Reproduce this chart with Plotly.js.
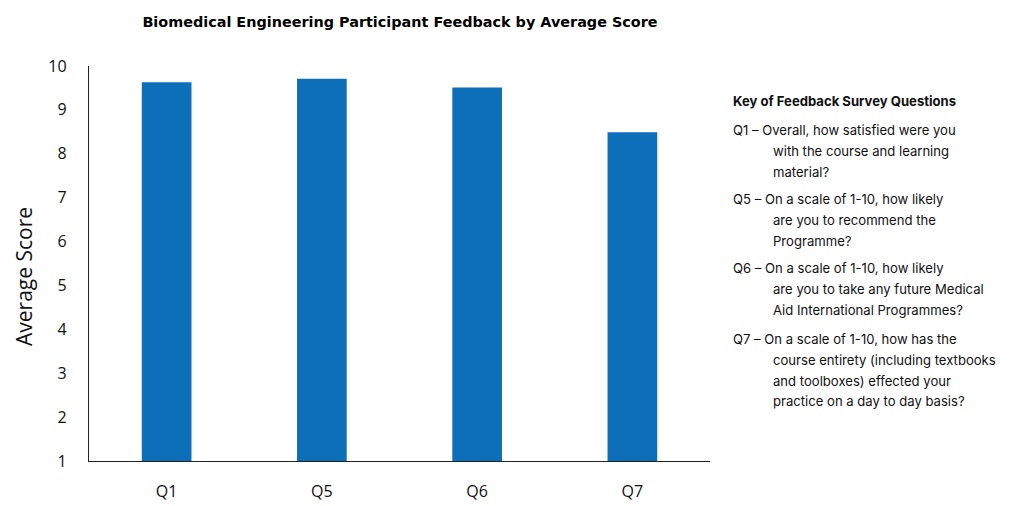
<!DOCTYPE html>
<html>
<head>
<meta charset="utf-8">
<script src="https://cdn.plot.ly/plotly-3.0.1.min.js"></script>
<style>html,body{margin:0;padding:0;background:#fff;}#chart{width:1024px;height:506px;}</style>
</head>
<body>
<div id="chart"></div>
<script>
const categories = ["Q1", "Q5", "Q6", "Q7"];
const averageScores = [9.63, 9.71, 9.51, 8.49];
const yTicks = [1, 2, 3, 4, 5, 6, 7, 8, 9, 10];
const chartTitle = "Biomedical Engineering Participant Feedback by Average Score";
const yTitle = "Average Score";
const keyHeading = "Key of Feedback Survey Questions";
const keyItems = [
  ["Q1 – Overall, how satisfied were you", "with the course and learning", "material?"],
  ["Q5 – On a scale of 1-10, how likely", "are you to recommend the", "Programme?"],
  ["Q6 – On a scale of 1-10, how likely", "are you to take any future Medical", "Aid International Programmes?"],
  ["Q7 – On a scale of 1-10, how has the", "course entirety (including textbooks", "and toolboxes) effected your", "practice on a day to day basis?"]
];

const L = 89, R = 710, T = 66, B = 461;
const px = x => (x - L) / (R - L);
const py = y => (B - y) / (B - T);

const keyFont = {family: "Inter, 'Open Sans', sans-serif", size: 13.1, color: "#111"};
const annotations = [];
annotations.push({text: yTitle, xref: "paper", yref: "paper", x: px(24), y: py(277), textangle: -90,
  showarrow: false, xanchor: "center", yanchor: "middle",
  font: {family: "'Open Sans', 'Liberation Sans', sans-serif", size: 21, color: "#111"}});
annotations.push({text: "<b>" + keyHeading + "</b>", xref: "paper", yref: "paper", x: px(731), y: py(101),
  showarrow: false, xanchor: "left", yanchor: "middle", font: keyFont});
const groupStarts = [130, 199, 268, 339];
const lineGap = 20.8;
keyItems.forEach((lines, g) => {
  lines.forEach((ln, i) => {
    annotations.push({text: ln, xref: "paper", yref: "paper",
      x: px(i === 0 ? 731 : 771), y: py(groupStarts[g] + i * lineGap),
      showarrow: false, xanchor: "left", yanchor: "middle", font: keyFont});
  });
});

const data = [{
  type: "bar",
  x: categories,
  y: averageScores,
  base: 0,
  marker: {color: "#0D6EBA"},
  hoverinfo: "x+y"
}];

const layout = {
  width: 1024, height: 506,
  margin: {l: L, r: 1024 - R, t: T, b: 506 - B, pad: 0},
  paper_bgcolor: "#fff", plot_bgcolor: "#fff",
  showlegend: false,
  bargap: 0.68,
  title: {text: "<b>" + chartTitle + "</b>", xref: "paper", x: px(400), xanchor: "center",
    yref: "container", y: 1 - 22 / 506, yanchor: "middle",
    font: {family: "'DejaVu Sans', sans-serif", size: 14.4, color: "#000"}},
  xaxis: {
    showline: true, linecolor: "#222", linewidth: 1.2,
    showgrid: false, zeroline: false,
    ticks: "outside", ticklen: 16, tickcolor: "rgba(0,0,0,0)",
    tickfont: {family: "'Open Sans', 'Liberation Sans', sans-serif", size: 16, color: "#111"},
    fixedrange: true
  },
  yaxis: {
    range: [1, 10], tickvals: yTicks, ticktext: yTicks.map(String),
    showline: true, linecolor: "#222", linewidth: 1.2,
    showgrid: false, zeroline: false,
    ticks: "outside", ticklen: 18, tickcolor: "rgba(0,0,0,0)",
    tickfont: {family: "'Open Sans', 'Liberation Sans', sans-serif", size: 16, color: "#111"},
    fixedrange: true
  },
  annotations: annotations
};

Plotly.newPlot("chart", data, layout, {displayModeBar: false, staticPlot: true});
</script>
</body>
</html>
